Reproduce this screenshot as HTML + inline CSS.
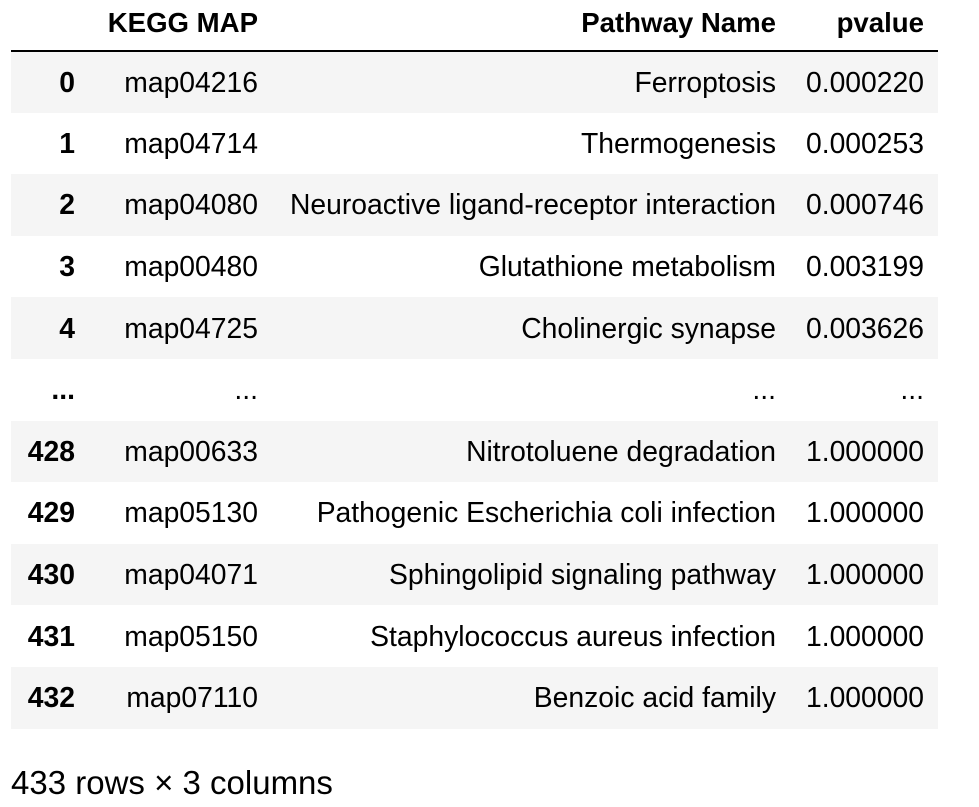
<!DOCTYPE html>
<html><head><meta charset="utf-8"><style>
body{margin:0;width:979px;height:807px;background:#fff;font-family:"Liberation Sans",Arial,sans-serif;color:#000;overflow:hidden;position:relative}
table{position:absolute;left:11px;top:0;border-collapse:collapse;font-size:28.3px;table-layout:fixed}
td,th{text-align:right;padding:0 14px 0 0;height:61.6px;white-space:nowrap;box-sizing:border-box}
thead th{height:51px;border-bottom:2px solid #000;font-weight:bold;vertical-align:middle;padding-bottom:4px;font-size:27.6px}
tbody th{font-weight:bold;padding-right:15px}
tbody tr:nth-child(odd){background:#f5f5f5}
#foot{position:absolute;left:11px;top:764px;font-size:33px;color:#000}
</style></head><body>
<table>
<colgroup><col style="width:79px"><col style="width:182px"><col style="width:518px"><col style="width:148px"></colgroup>
<thead><tr><th></th><th>KEGG MAP</th><th>Pathway Name</th><th>pvalue</th></tr></thead>
<tbody>
<tr><th>0</th><td>map04216</td><td>Ferroptosis</td><td>0.000220</td></tr>
<tr><th>1</th><td>map04714</td><td>Thermogenesis</td><td>0.000253</td></tr>
<tr><th>2</th><td>map04080</td><td>Neuroactive ligand-receptor interaction</td><td>0.000746</td></tr>
<tr><th>3</th><td>map00480</td><td>Glutathione metabolism</td><td>0.003199</td></tr>
<tr><th>4</th><td>map04725</td><td>Cholinergic synapse</td><td>0.003626</td></tr>
<tr><th>...</th><td>...</td><td>...</td><td>...</td></tr>
<tr><th>428</th><td>map00633</td><td>Nitrotoluene degradation</td><td>1.000000</td></tr>
<tr><th>429</th><td>map05130</td><td>Pathogenic Escherichia coli infection</td><td>1.000000</td></tr>
<tr><th>430</th><td>map04071</td><td>Sphingolipid signaling pathway</td><td>1.000000</td></tr>
<tr><th>431</th><td>map05150</td><td>Staphylococcus aureus infection</td><td>1.000000</td></tr>
<tr><th>432</th><td>map07110</td><td>Benzoic acid family</td><td>1.000000</td></tr>
</tbody></table>
<div id="foot">433 rows × 3 columns</div>
</body></html>
